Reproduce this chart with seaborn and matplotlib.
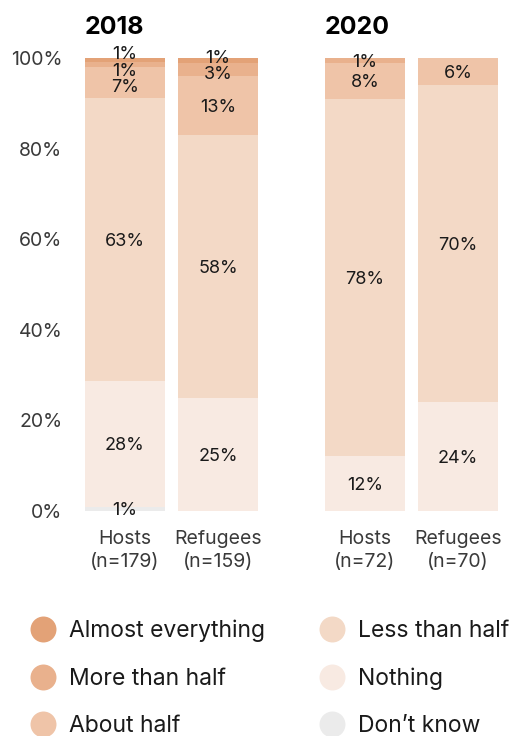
import numpy as np
import pandas as pd
import matplotlib
matplotlib.use("Agg")
import matplotlib.pyplot as plt
from matplotlib.lines import Line2D
import seaborn as sns

# --- data (shares in %, stacked bottom -> top) ---
levels = ["Don\u2019t know", "Nothing", "Less than half", "About half",
          "More than half", "Almost everything"]
colors = ["#EBEBEB", "#F8EAE2", "#F3D9C6", "#EFC4A8", "#E9B18D", "#E3A277"]
groups = ["Hosts\n(n=179)", "Refugees\n(n=159)", "Hosts\n(n=72)", "Refugees\n(n=70)"]
years = ["2018", "2020"]
positions = [0.0, 1.0, 2.58, 3.58]

dont_know = [1, 0, 0, 0]
nothing = [28, 25, 12, 24]
less_half = [63, 58, 78, 70]
about_half = [7, 13, 8, 6]
more_half = [1, 3, 1, 0]
almost_all = [1, 1, 0, 0]

vals = np.array([dont_know, nothing, less_half, about_half, more_half, almost_all], dtype=float)
shares = vals / vals.sum(axis=0) * 100  # normalise each bar to 100%
cum = np.cumsum(shares, axis=0)

sns.set_theme(style="white")
plt.rcParams["font.family"] = ["Inter", "DejaVu Sans"]
text_col = "#1a1a1a"

fig = plt.figure(figsize=(5.13, 7.36), dpi=100)
ax = fig.add_axes([75 / 513, 1 - 515 / 736, 435 / 513, 475 / 736])

# overlay stacked bars: draw tallest cumulative first
for k in range(len(levels) - 1, -1, -1):
    df = pd.DataFrame({"pos": positions, "cum": cum[k]})
    sns.barplot(data=df, x="pos", y="cum", native_scale=True, width=0.86,
                color=colors[k], saturation=1, errorbar=None, linewidth=0, ax=ax)


def spread(centers, gap):
    clusters = [[c, 1] for c in centers]
    merged = True
    while merged:
        merged = False
        for i in range(len(clusters) - 1):
            m1, n1 = clusters[i]
            m2, n2 = clusters[i + 1]
            top1 = m1 + (n1 - 1) / 2 * gap
            bot2 = m2 - (n2 - 1) / 2 * gap
            if bot2 - top1 < gap:
                clusters[i] = [(m1 * n1 + m2 * n2) / (n1 + n2), n1 + n2]
                del clusters[i + 1]
                merged = True
                break
    out = []
    for m, n in clusters:
        out += [m + (j - (n - 1) / 2) * gap for j in range(n)]
    return out


for j, x in enumerate(positions):
    idx = [k for k in range(len(levels)) if vals[k, j] > 0]
    centers = [cum[k, j] - shares[k, j] / 2 for k in idx]
    ys = spread(centers, 3.6)
    for k, y in zip(idx, ys):
        ax.text(x, y, f"{int(vals[k, j])}%", ha="center", va="center_baseline",
                fontsize=13, color=text_col)

# year headers
for yr, x in zip(years, [positions[0], positions[2]]):
    ax.text(x - 0.43, 106.8, yr, ha="left", va="center", fontsize=18,
            fontweight="bold", color="black", clip_on=False)

ax.set_xlim((75 - 125) / 93, (510 - 125) / 93)
ax.set_ylim((511 - 515) / 4.53, (511 - 40) / 4.53)
ax.set_yticks([0, 20, 40, 60, 80, 100])
ax.set_yticklabels([f"{t}%" for t in [0, 20, 40, 60, 80, 100]])
ax.set_xticks(positions)
ax.set_xticklabels(groups, linespacing=1.35)
ax.tick_params(axis="y", length=0, pad=9, labelsize=14, labelcolor="#3a3a3a")
ax.tick_params(axis="x", length=0, pad=11, labelsize=14, labelcolor="#3a3a3a")
ax.set_xlabel("")
ax.set_ylabel("")
sns.despine(ax=ax, left=True, bottom=True)
ax.grid(False)

# legend in two columns
handles = [Line2D([], [], marker="o", linestyle="", markersize=18.7,
                  markerfacecolor=c, markeredgewidth=0) for c in colors]
order_left = [5, 4, 3]
order_right = [2, 1, 0]
for order, x0 in [(order_left, 30 / 513), (order_right, 319 / 513)]:
    fig.legend([handles[k] for k in order], [levels[k] for k in order],
               loc="upper left", bbox_to_anchor=(x0, 1 - 620 / 736),
               frameon=False, handlelength=1.1, handletextpad=0.6,
               labelspacing=1.1, borderpad=0, borderaxespad=0,
               labelcolor=text_col, prop={"size": 16.5})

fig.savefig("out.png", dpi=100)
